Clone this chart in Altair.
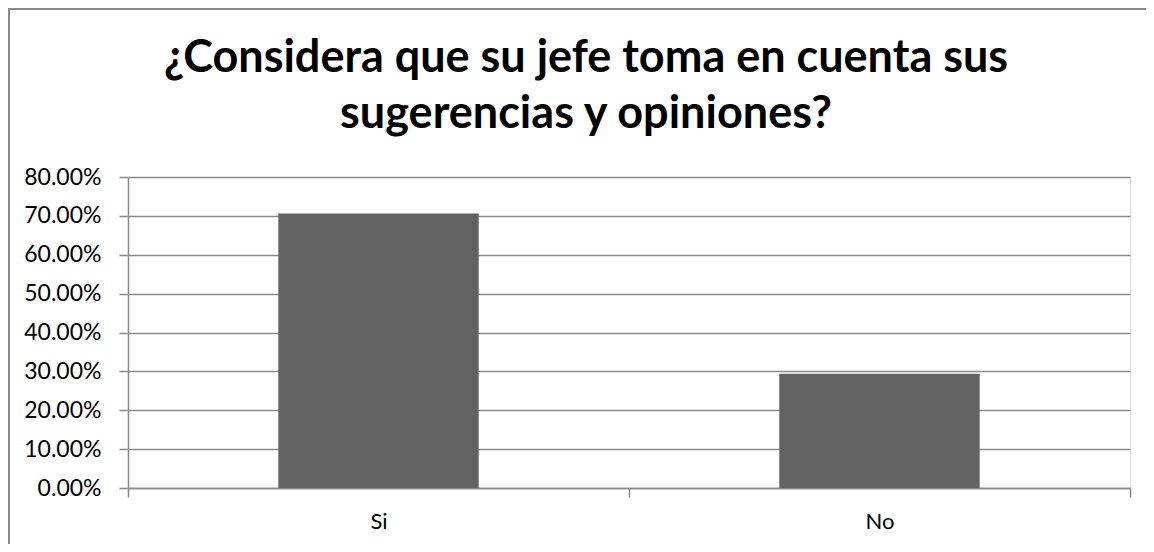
import altair as alt
import pandas as pd

categories = ["Si", "No"]
values = [0.7059, 0.2941]
y_ticks = [0.0, 0.1, 0.2, 0.3, 0.4, 0.5, 0.6, 0.7, 0.8]
title_lines = ["¿Considera que su jefe toma en cuenta sus", "sugerencias y opiniones?"]

df = pd.DataFrame({"categoria": categories, "valor": values})

GRAY = "#8a8a8a"
FONT = "Lato"

x_enc = alt.X(
    "categoria:N",
    sort=categories,
    scale=alt.Scale(paddingInner=0, paddingOuter=0),
    axis=alt.Axis(
        title=None,
        labelAngle=0,
        tickBand="extent",
        ticks=True,
        tickSize=9,
        tickColor=GRAY,
        tickWidth=1.5,
        domainColor=GRAY,
        domainWidth=1.5,
        labelPadding=14,
        labelFont=FONT,
        labelFontSize=22,
        labelColor="#000000",
        grid=False,
    ),
)

y_enc = alt.Y(
    "valor:Q",
    scale=alt.Scale(domain=[0, 0.8], nice=False),
    axis=alt.Axis(
        title=None,
        values=y_ticks,
        format=".2%",
        grid=True,
        gridColor=GRAY,
        gridWidth=1.5,
        tickSize=9,
        tickColor=GRAY,
        tickWidth=1.5,
        domainColor=GRAY,
        domainWidth=1.5,
        labelPadding=18,
        labelFont=FONT,
        labelFontSize=23,
        labelColor="#000000",
    ),
)

bars = alt.Chart(df).mark_bar(
    color="#636363", width=alt.RelativeBandSize(0.4)
).encode(x=x_enc, y=y_enc)

frame = alt.Chart(alt.Data(values=[{}])).mark_rect(
    fill=None, stroke="#888888", strokeWidth=2
).encode(
    x=alt.value(-119),
    x2=alt.value(1200),
    y=alt.value(-168),
    y2=alt.value(700),
)

chart = alt.layer(bars, frame).properties(
    width=1002,
    height=311,
    padding={"left": 120, "top": 169, "right": 16, "bottom": 56},
    autosize=alt.AutoSizeParams(type="none"),
    title=alt.TitleParams(
        text=title_lines,
        font=FONT,
        fontSize=45,
        fontWeight="bold",
        color="#000000",
        anchor="middle",
        frame="group",
        baseline="bottom",
        dx=-43,
        dy=194,
        lineHeight=56,
        offset=20,
    ),
).configure_view(stroke=None).configure(background="#ffffff")

chart.save("out.html", embed_options={"renderer": "svg", "actions": False})
